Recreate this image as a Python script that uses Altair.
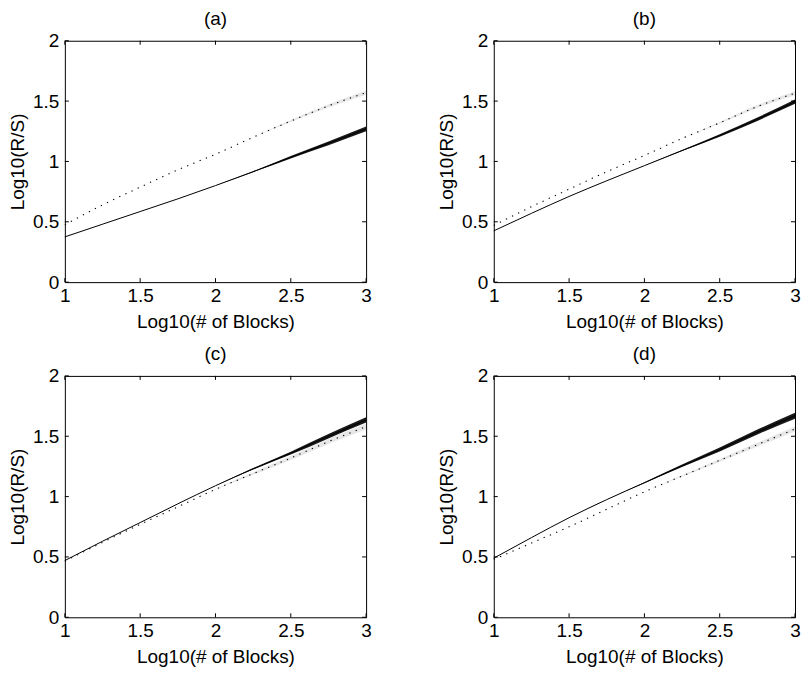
import altair as alt
import pandas as pd

# ---- data ----
xs = [1.0, 1.25, 1.5, 1.75, 2.0, 2.25, 2.5, 2.75, 3.0]

a_solid = [0.375, 0.48, 0.585, 0.69, 0.80, 0.915, 1.035, 1.15, 1.27]
a_dot = [0.475, 0.64, 0.787, 0.93, 1.06, 1.20, 1.335, 1.46, 1.57]
a_solid_noise = [0, 0, 0, 0, 0, 0.004, 0.010, 0.016, 0.020]
a_dot_noise = [0, 0, 0, 0, 0, 0, 0.008, 0.014, 0.018]

b_solid = [0.425, 0.57, 0.71, 0.84, 0.965, 1.09, 1.215, 1.35, 1.495]
b_dot = [0.47, 0.625, 0.77, 0.915, 1.05, 1.19, 1.32, 1.455, 1.565]
b_solid_noise = [0, 0, 0, 0, 0, 0.004, 0.010, 0.014, 0.018]
b_dot_noise = [0, 0, 0, 0, 0, 0, 0.006, 0.012, 0.016]

c_solid = [0.47, 0.63, 0.785, 0.94, 1.09, 1.23, 1.36, 1.50, 1.635]
c_dot = [0.465, 0.62, 0.77, 0.915, 1.06, 1.19, 1.32, 1.455, 1.58]
c_solid_noise = [0, 0, 0, 0, 0, 0.006, 0.012, 0.018, 0.022]
c_dot_noise = [0, 0, 0, 0, 0.004, 0.010, 0.016, 0.020, 0.025]

d_solid = [0.49, 0.66, 0.825, 0.975, 1.115, 1.255, 1.39, 1.535, 1.67]
d_dot = [0.48, 0.615, 0.75, 0.895, 1.04, 1.17, 1.30, 1.43, 1.56]
d_solid_noise = [0, 0, 0, 0, 0.004, 0.010, 0.016, 0.020, 0.025]
d_dot_noise = [0, 0, 0, 0, 0, 0.006, 0.012, 0.016, 0.020]

x_ticks = [1, 1.5, 2, 2.5, 3]
y_ticks = [0, 0.5, 1, 1.5, 2]

panels = [
    ("(a)", a_solid, a_dot, a_solid_noise, a_dot_noise),
    ("(b)", b_solid, b_dot, b_solid_noise, b_dot_noise),
    ("(c)", c_solid, c_dot, c_solid_noise, c_dot_noise),
    ("(d)", d_solid, d_dot, d_solid_noise, d_dot_noise),
]

W, H = 302, 242
FONT = "Liberation Sans"
FS = 19
TL = 4  # inward tick length

def axis(title, values, lp, tp):
    return alt.Axis(values=values, format="~g", title=title,
                    ticks=False, tickSize=0, domain=False, grid=False,
                    labelPadding=lp, titlePadding=tp, labelFlush=False,
                    labelOverlap=False, labelFont=FONT, titleFont=FONT,
                    labelFontSize=FS, titleFontSize=FS, labelColor="black",
                    titleColor="black", titleFontWeight="normal")

def panel(title, solid, dot, sn, dn):
    df = pd.DataFrame({
        "x": xs, "solid": solid, "dot": dot,
        "s_lo": [v - n for v, n in zip(solid, sn)],
        "s_hi": [v + n for v, n in zip(solid, sn)],
        "d_lo": [v - n for v, n in zip(dot, dn)],
        "d_hi": [v + n for v, n in zip(dot, dn)],
    })
    xsc = alt.Scale(domain=[1, 3], nice=False, zero=False)
    ysc = alt.Scale(domain=[0, 2], nice=False, zero=False)
    xax = axis("Log10(# of Blocks)", x_ticks, 4, 7)
    yax = axis("Log10(R/S)", y_ticks, 6, 5)
    base = alt.Chart(df)
    dband = base.mark_area(color="#888888", opacity=0.2, interpolate="monotone").encode(
        x=alt.X("x:Q", scale=xsc, axis=xax), y=alt.Y("d_lo:Q", scale=ysc, axis=yax), y2="d_hi:Q")
    dline = base.mark_line(color="black", strokeWidth=1.1, strokeDash=[1.3, 5.5],
                           interpolate="monotone").encode(
        x=alt.X("x:Q", scale=xsc), y=alt.Y("dot:Q", scale=ysc))
    sband = base.mark_area(color="black", opacity=0.9, interpolate="monotone").encode(
        x=alt.X("x:Q", scale=xsc), y=alt.Y("s_lo:Q", scale=ysc), y2="s_hi:Q")
    sline = base.mark_line(color="black", strokeWidth=1, interpolate="monotone").encode(
        x=alt.X("x:Q", scale=xsc), y=alt.Y("solid:Q", scale=ysc))

    xt = alt.Chart(pd.DataFrame({"t": x_ticks}))
    yt = alt.Chart(pd.DataFrame({"t": y_ticks}))
    tb = xt.mark_rule(color="black").encode(x=alt.X("t:Q", scale=xsc), y=alt.value(H), y2=alt.value(H - TL))
    tt = xt.mark_rule(color="black").encode(x=alt.X("t:Q", scale=xsc), y=alt.value(0), y2=alt.value(TL))
    tl = yt.mark_rule(color="black").encode(y=alt.Y("t:Q", scale=ysc), x=alt.value(0), x2=alt.value(TL))
    tr = yt.mark_rule(color="black").encode(y=alt.Y("t:Q", scale=ysc), x=alt.value(W), x2=alt.value(W - TL))

    return alt.layer(dband, dline, sband, sline, tb, tt, tl, tr).properties(
        width=W, height=H,
        title=alt.TitleParams(title, fontSize=FS, font=FONT, fontWeight="normal",
                              color="black", offset=3),
    )

charts = [panel(*p) for p in panels]
top = alt.hconcat(charts[0], charts[1], spacing=65)
bottom = alt.hconcat(charts[2], charts[3], spacing=65)
chart = alt.vconcat(top, bottom, spacing=12).properties(
    padding=0
).configure(
    background="white"
).configure_view(
    stroke="black", strokeWidth=1
)

chart.save("out.html", embed_options={"renderer": "svg", "actions": False})
